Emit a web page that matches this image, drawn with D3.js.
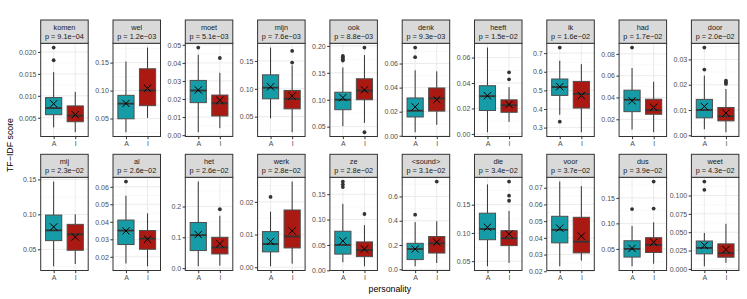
<!DOCTYPE html>
<html>
<head>
<meta charset="utf-8">
<script src="https://cdn.jsdelivr.net/npm/d3@7"></script>
<style>
body { margin: 0; background: #fff; }
text { font-family: "Liberation Sans", Arial, sans-serif; }
</style>
</head>
<body>
<div id="chart"></div>
<script>
// words and their p-values, in facet order
const words = ["komen", "wel", "moet", "mijn", "ook", "denk", "heeft", "ik", "had", "door",
               "mij", "al", "het", "werk", "ze", "<sound>", "die", "voor", "dus", "weet"];
const pvals = ["9.1e\u221204", "1.2e\u221203", "5.1e\u221203", "7.6e\u221203", "8.8e\u221203",
               "9.3e\u221203", "1.5e\u221202", "1.6e\u221202", "1.7e\u221202", "2.0e\u221202",
               "2.3e\u221202", "2.6e\u221202", "2.6e\u221202", "2.8e\u221202", "2.8e\u221202",
               "3.1e\u221202", "3.4e\u221202", "3.7e\u221202", "3.9e\u221202", "4.3e\u221202"];
const groups = ["A", "I"];

// box stats: [lower whisker, q1, median, q3, upper whisker]
const statsA = [
  [0.0028, 0.0057, 0.0072, 0.0096, 0.0154], [0.0254, 0.0495, 0.0766, 0.0915, 0.152],
  [0.0016, 0.018, 0.0247, 0.0303, 0.0445],  [0.047, 0.082, 0.102, 0.125, 0.174],
  [0.051, 0.0815, 0.100, 0.114, 0.160],     [0.0029, 0.0156, 0.0208, 0.0314, 0.0544],
  [0.0013, 0.0184, 0.0297, 0.0379, 0.0679], [0.369, 0.473, 0.518, 0.561, 0.659],
  [0.0106, 0.027, 0.0379, 0.0467, 0.067],   [0.0024, 0.0069, 0.010, 0.0142, 0.0236],
  [0.0257, 0.0624, 0.0771, 0.099, 0.147],   [0.0162, 0.027, 0.035, 0.041, 0.0549],
  [0.006, 0.057, 0.107, 0.148, 0.281],      [0.0003, 0.0047, 0.0071, 0.0109, 0.017],
  [0.016, 0.032, 0.050, 0.077, 0.131],      [0.025, 0.08, 0.167, 0.214, 0.389],
  [0.041, 0.088, 0.107, 0.135, 0.186],      [0.023, 0.037, 0.0448, 0.0529, 0.0737],
  [0.016, 0.034, 0.050, 0.066, 0.095],      [0.0036, 0.0205, 0.0286, 0.038, 0.049]
];
const statsI = [
  [0.0017, 0.0041, 0.0055, 0.0077, 0.0109], [0.051, 0.073, 0.1005, 0.139, 0.177],
  [0.0039, 0.0106, 0.0176, 0.0222, 0.0345], [0.022, 0.064, 0.082, 0.097, 0.142],
  [0.057, 0.100, 0.117, 0.139, 0.183],      [0.0091, 0.0205, 0.031, 0.0397, 0.0535],
  [0.0095, 0.017, 0.0226, 0.0268, 0.0368],  [0.275, 0.405, 0.481, 0.548, 0.641],
  [0.0081, 0.0246, 0.0283, 0.0384, 0.0545], [0.0012, 0.0057, 0.0075, 0.011, 0.0183],
  [0.029, 0.0486, 0.0714, 0.0857, 0.10],    [0.0146, 0.0243, 0.0304, 0.035, 0.0448],
  [0.008, 0.046, 0.067, 0.100, 0.170],      [0.0011, 0.0059, 0.0094, 0.0175, 0.0262],
  [0.008, 0.027, 0.040, 0.056, 0.089],      [0.052, 0.134, 0.214, 0.27, 0.396],
  [0.047, 0.0776, 0.0906, 0.104, 0.139],    [0.0264, 0.031, 0.0377, 0.0523, 0.071],
  [0.021, 0.043, 0.058, 0.072, 0.102],      [0.0082, 0.0159, 0.0214, 0.0341, 0.0614]
];
const meansA = [0.0082, 0.077, 0.025, 0.1036, 0.104, 0.024, 0.030, 0.52, 0.037, 0.0114,
                0.082, 0.0348, 0.109, 0.0079, 0.058, 0.167, 0.110, 0.0458, 0.051, 0.032];
const meansI = [0.0057, 0.104, 0.0193, 0.087, 0.1185, 0.030, 0.0232, 0.472, 0.031, 0.0088,
                0.0676, 0.030, 0.079, 0.0111, 0.042, 0.223, 0.098, 0.041, 0.063, 0.0264];
const outA = [[0.021, 0.0181], [], [0.0485], [], [0.1815, 0.179, 0.1754, 0.1728],
              [0.0733, 0.0653], [], [0.73, 0.332], [0.0858], [0.0347, 0.026],
              [], [0.063], [], [0.0215], [0.175, 0.1696, 0.164],
              [0.45], [], [], [0.128], [0.119, 0.1077]];
const outI = [[], [], [0.0427], [0.168, 0.147], [0.197, 0.0396],
              [], [0.0484, 0.0429], [], [], [0.0216, 0.0209, 0.0203],
              [], [], [0.191], [], [0.111],
              [0.723], [0.191, 0.166, 0.157], [], [0.182, 0.129], []];

// y tick values per facet
const yTicks = [
  [0.005, 0.010, 0.015, 0.020], [0.05, 0.10, 0.15], [0, 0.01, 0.02, 0.03, 0.04, 0.05],
  [0.05, 0.10, 0.15], [0.05, 0.10, 0.15, 0.20], [0, 0.02, 0.04, 0.06], [0, 0.02, 0.04, 0.06],
  [0.3, 0.4, 0.5, 0.6, 0.7], [0.02, 0.04, 0.06, 0.08], [0, 0.01, 0.02, 0.03],
  [0.05, 0.10, 0.15], [0.02, 0.03, 0.04, 0.05, 0.06], [0, 0.1, 0.2], [0, 0.01, 0.02],
  [0, 0.05, 0.10, 0.15], [0, 0.2, 0.4, 0.6], [0.05, 0.10, 0.15],
  [0.02, 0.03, 0.04, 0.05, 0.06, 0.07], [0.05, 0.10, 0.15], [0, 0.025, 0.05, 0.075, 0.10]
];

const COLORS = {A: "#159ca6", I: "#ab1a12"};

// layout
const WIDTH = 747, HEIGHT = 299;
const COL_X0 = 40.7, COL_STEP = 72.3, PANEL_W = 47.5;
const STRIP_TOP = [20, 154.3], PANEL_TOP = [43.3, 177.3], PANEL_H = 93.2;

const svg = d3.select("#chart").append("svg")
  .attr("width", WIDTH).attr("height", HEIGHT);

// same number of decimals for every label of one axis, like ggplot
function decimalsOf(ticks) {
  return d3.max(ticks, t => (String(+t.toFixed(6)).split(".")[1] || "").length);
}

words.forEach((w, i) => {
  const row = Math.floor(i / 10), col = i % 10;
  const x0 = COL_X0 + col * COL_STEP;
  const y0 = PANEL_TOP[row];
  const stats = {A: statsA[i], I: statsI[i]};
  const means = {A: meansA[i], I: meansI[i]};
  const outs = {A: outA[i], I: outI[i]};

  const all = [...statsA[i], ...statsI[i], ...outA[i], ...outI[i]];
  const lo = d3.min(all), hi = d3.max(all), pad = (hi - lo) * 0.05;
  const y = d3.scaleLinear().domain([lo - pad, hi + pad]).range([y0 + PANEL_H, y0]);
  const x = d3.scalePoint().domain(groups).range([x0, x0 + PANEL_W]).padding(0.6);
  const boxW = 0.75 * x.step();

  const g = svg.append("g");

  // grid
  const ticks = yTicks[i];
  const step = ticks[1] - ticks[0];
  const minor = d3.range(ticks[0] - step / 2, hi + pad + step, step)
    .filter(v => v > lo - pad && v < hi + pad);
  g.selectAll(".minor").data(minor).enter().append("line")
    .attr("x1", x0).attr("x2", x0 + PANEL_W)
    .attr("y1", d => y(d)).attr("y2", d => y(d))
    .attr("stroke", "#f2f2f2").attr("stroke-width", 0.5);
  g.selectAll(".major").data(ticks).enter().append("line")
    .attr("x1", x0).attr("x2", x0 + PANEL_W)
    .attr("y1", d => y(d)).attr("y2", d => y(d))
    .attr("stroke", "#ebebeb").attr("stroke-width", 1);
  g.selectAll(".vgrid").data(groups).enter().append("line")
    .attr("x1", d => x(d)).attr("x2", d => x(d))
    .attr("y1", y0).attr("y2", y0 + PANEL_H)
    .attr("stroke", "#ebebeb").attr("stroke-width", 1);

  groups.forEach(k => {
    const s = stats[k], cx = x(k);
    // whiskers
    g.append("line").attr("x1", cx).attr("x2", cx)
      .attr("y1", y(s[0])).attr("y2", y(s[1]))
      .attr("stroke", "#333").attr("stroke-width", 1);
    g.append("line").attr("x1", cx).attr("x2", cx)
      .attr("y1", y(s[3])).attr("y2", y(s[4]))
      .attr("stroke", "#333").attr("stroke-width", 1);
    // box
    g.append("rect").attr("x", cx - boxW / 2).attr("width", boxW)
      .attr("y", y(s[3])).attr("height", y(s[1]) - y(s[3]))
      .attr("fill", COLORS[k]).attr("stroke", "#4d4d4d").attr("stroke-width", 1);
    // median
    g.append("line").attr("x1", cx - boxW / 2).attr("x2", cx + boxW / 2)
      .attr("y1", y(s[2])).attr("y2", y(s[2]))
      .attr("stroke", "#333").attr("stroke-width", 1.8);
    // outliers
    g.selectAll(".out" + k).data(outs[k]).enter().append("circle")
      .attr("cx", cx).attr("cy", d => y(d)).attr("r", 1.9).attr("fill", "#333");
    // mean cross
    const my = y(means[k]), r = 3.6;
    g.append("path")
      .attr("d", `M${cx - r},${my - r}L${cx + r},${my + r}M${cx - r},${my + r}L${cx + r},${my - r}`)
      .attr("stroke", "#000").attr("stroke-width", 1);
  });

  // panel border
  g.append("rect").attr("x", x0).attr("y", y0).attr("width", PANEL_W).attr("height", PANEL_H)
    .attr("fill", "none").attr("stroke", "#333").attr("stroke-width", 1);

  // strip
  const sy = STRIP_TOP[row];
  g.append("rect").attr("x", x0).attr("y", sy).attr("width", PANEL_W).attr("height", y0 - sy)
    .attr("fill", "#d9d9d9").attr("stroke", "#333").attr("stroke-width", 1);
  g.append("text").attr("x", x0 + PANEL_W / 2).attr("y", sy + 9.5)
    .attr("text-anchor", "middle").attr("font-size", 7.3).attr("fill", "#1a1a1a").text(w);
  g.append("text").attr("x", x0 + PANEL_W / 2).attr("y", sy + 19)
    .attr("text-anchor", "middle").attr("font-size", 7.3).attr("fill", "#1a1a1a")
    .text("p = " + pvals[i]);

  // y axis
  const fmt = d3.format("." + decimalsOf(ticks) + "f");
  const ay = g.append("g").attr("transform", `translate(${x0},0)`)
    .call(d3.axisLeft(y).tickValues(ticks).tickFormat(fmt).tickSize(2.7).tickPadding(1.5));
  ay.select(".domain").remove();
  ay.selectAll("line").attr("stroke", "#333");
  ay.selectAll("text").attr("font-size", 7).attr("fill", "#4d4d4d")
    .attr("font-family", "Liberation Sans, Arial, sans-serif");

  // x axis
  const ax = g.append("g").attr("transform", `translate(0,${y0 + PANEL_H})`)
    .call(d3.axisBottom(x).tickSize(2.7).tickPadding(1.5));
  ax.select(".domain").remove();
  ax.selectAll("line").attr("stroke", "#333");
  ax.selectAll("text").attr("font-size", 7).attr("fill", "#4d4d4d")
    .attr("font-family", "Liberation Sans, Arial, sans-serif");
});

// axis titles
svg.append("text").attr("x", COL_X0 + (COL_STEP * 9 + PANEL_W) / 2).attr("y", 292)
  .attr("text-anchor", "middle").attr("font-size", 8.8).attr("fill", "#000").text("personality");
svg.append("text").attr("transform", "translate(13,145) rotate(-90)")
  .attr("text-anchor", "middle").attr("font-size", 8.8).attr("fill", "#000").text("TF\u2212IDF score");
</script>
</body>
</html>
